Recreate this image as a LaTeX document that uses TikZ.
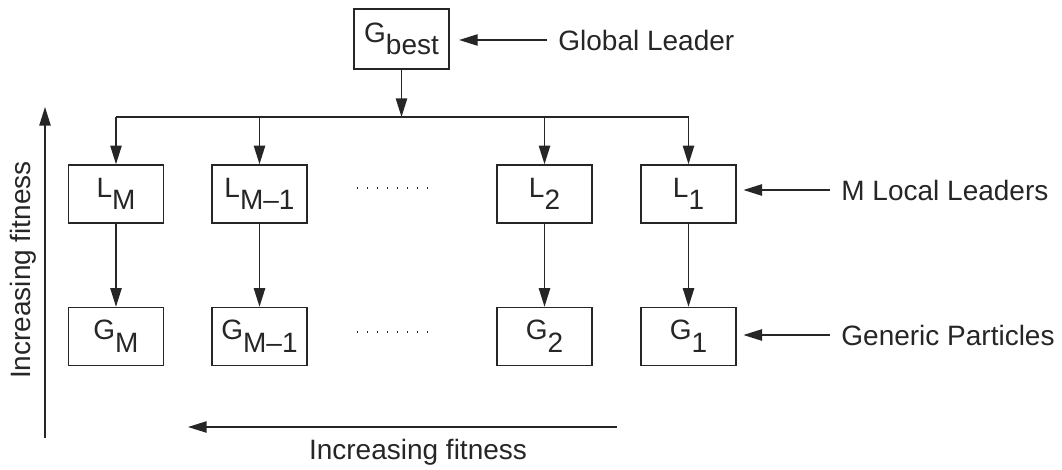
\documentclass[tikz,border=0pt]{standalone}
\usepackage{fontspec}
\setmainfont{Liberation Sans}
\usetikzlibrary{arrows.meta}
\newcommand{\lowtxt}[1]{\raisebox{-0.45em}{#1}}
\begin{document}
\begin{tikzpicture}[x=0.75pt,y=-0.75pt,
  color=black!85, line width=1.1pt,
  box/.style={draw, minimum width=71.25pt, minimum height=43.5pt, inner sep=0pt, font=\fontsize{21pt}{23pt}\selectfont},
  lbl/.style={font=\fontsize{21pt}{23pt}\selectfont, inner sep=2pt},
  arr/.style={-{Triangle[length=14pt,width=8.5pt]}},
  dotline/.style={line width=0.9pt, dash pattern=on 1pt off 6.5pt}]
\useasboundingbox (0,0) rectangle (1062,470);
% top
\node[box, minimum height=45pt] (gb) at (401.5,39) {G\lowtxt{best}};
\coordinate (bus) at (401.5,117);
% leaders
\node[box] (LM) at (116,194) {L\lowtxt{M}};
\node[box] (LM1) at (259.5,194) {L\lowtxt{M–1}};
\node[box] (L2) at (544.5,194) {L\lowtxt{2}};
\node[box] (L1) at (688.5,194) {L\lowtxt{1}};
% generic
\node[box] (GM) at (116,336.5) {G\lowtxt{M}};
\node[box] (GM1) at (259.5,336.5) {G\lowtxt{M–1}};
\node[box] (G2) at (544.5,336.5) {G\lowtxt{2}};
\node[box] (G1) at (688.5,336.5) {G\lowtxt{1}};
% connectors
\draw[arr] (gb) -- (bus);
\draw (LM.north |- bus) -- (L1.north |- bus);
\foreach \n in {LM,LM1,L2,L1} \draw[arr] (\n.north |- bus) -- (\n.north);
\draw[arr] (LM) -- (GM);
\draw[arr] (LM1) -- (GM1);
\draw[arr] (L2) -- (G2);
\draw[arr] (L1) -- (G1);
% dots
\draw[dotline] (357,188) -- (437,188);
\draw[dotline] (357,332) -- (437,332);
% right labels
\node[lbl, anchor=west] (glob) at (555,40) {Global Leader};
\draw[arr, shorten >=7pt] (547,40) -- (gb.east |- glob.west);
\node[lbl, anchor=west] (mll) at (838,190) {M Local Leaders};
\draw[arr, shorten >=5pt] (830,190) -- (L1.east |- mll.west);
\node[lbl, anchor=west] (gpl) at (838,335) {Generic Particles};
\draw[arr, shorten >=5pt] (830,335) -- (G1.east |- gpl.west);
% fitness axes
\coordinate (vs) at (45,438);
\coordinate (ve) at (45,107);
\draw[arr] (vs) -- (ve);
\node[lbl, rotate=90] (vfit) at (23,270) {Increasing fitness};
\coordinate (hs) at (617,427);
\coordinate (he) at (188,427);
\draw[arr] (hs) -- (he);
\node[lbl] (hfit) at (418,452) {Increasing fitness};
\end{tikzpicture}
\end{document}
